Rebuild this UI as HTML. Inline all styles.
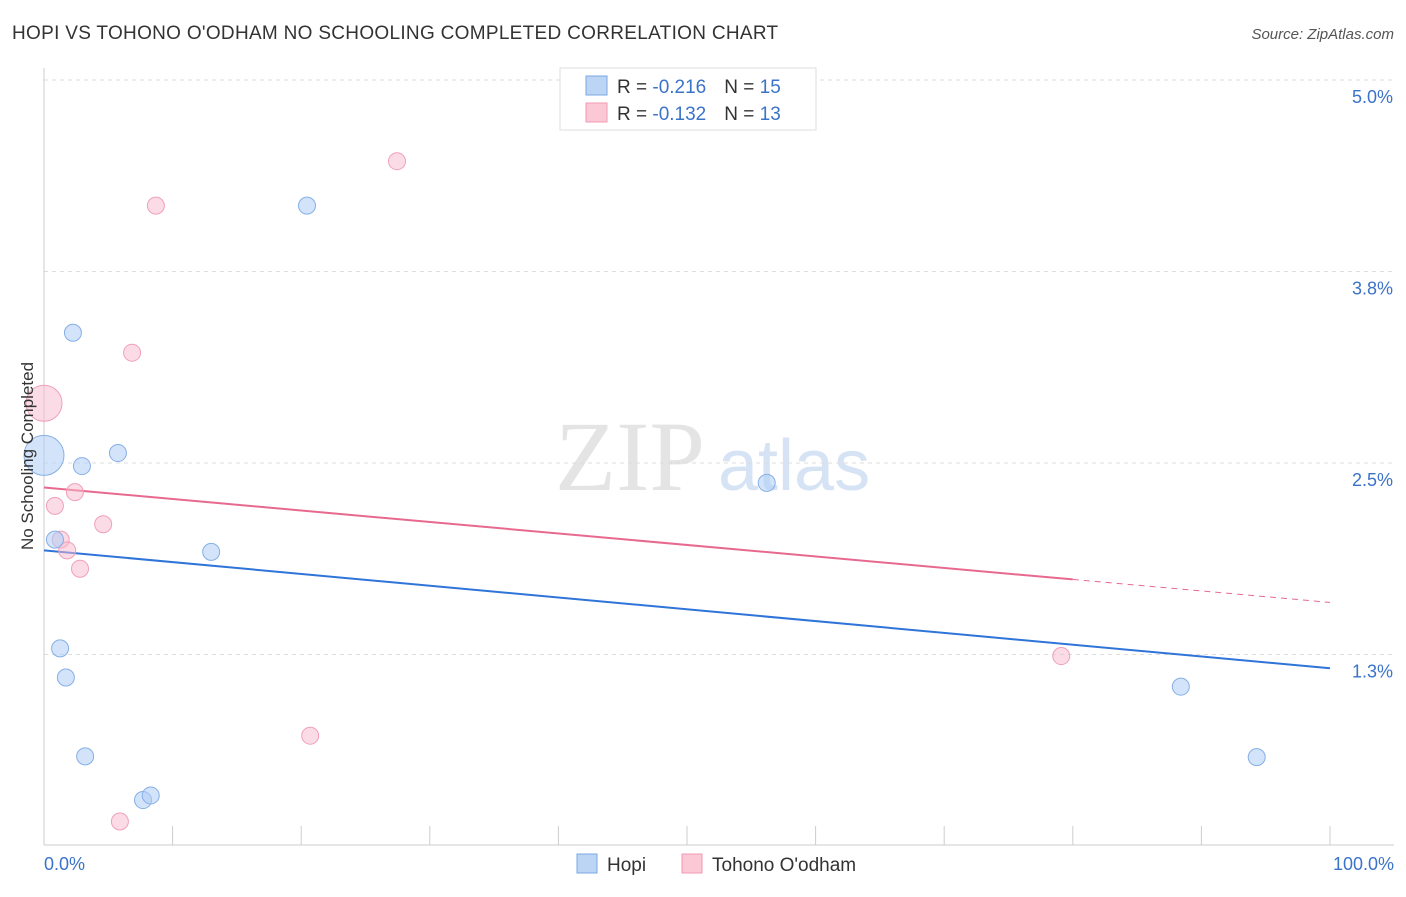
<!DOCTYPE html>
<html><head><meta charset="utf-8"><style>
body{margin:0;background:#fff;font-family:"Liberation Sans",sans-serif;}
</style></head><body>
<svg width="1406" height="892" xmlns="http://www.w3.org/2000/svg" font-family="Liberation Sans, sans-serif">
<text x="12" y="39" font-size="19" letter-spacing="0.3" fill="#333">HOPI VS TOHONO O'ODHAM NO SCHOOLING COMPLETED CORRELATION CHART</text>
<text x="1394" y="39" font-size="15" fill="#555" text-anchor="end" font-style="italic">Source: ZipAtlas.com</text>
<text x="555" y="490" font-size="100" fill="#e4e4e4" font-family="Liberation Serif, serif">ZIP</text>
<text x="718" y="490" font-size="72" fill="#d6e3f5">atlas</text>
<g id="grid"></g>
<g id="axes"></g>
<g id="lines"></g>
<g id="points"></g>
<text transform="translate(33,456) rotate(-90)" font-size="17" fill="#333" text-anchor="middle">No Schooling Completed</text>
<text x="44" y="870" font-size="18" fill="#3b73c9">0.0%</text>
<text x="1394" y="870" font-size="18" fill="#3b73c9" text-anchor="end">100.0%</text>
<g>
<rect x="560" y="68" width="256" height="62" fill="#fff" stroke="#ddd"/>
<rect x="586" y="76" width="21" height="19" fill="#bcd5f5" stroke="#7aa7e3"/>
<rect x="586" y="103" width="21" height="19" fill="#fbc8d6" stroke="#f09ab3"/>
<text x="617" y="93" font-size="19" fill="#333">R = <tspan fill="#3b73c9">-0.216</tspan><tspan dx="18">N = </tspan><tspan fill="#3b73c9">15</tspan></text>
<text x="617" y="120" font-size="19" fill="#333">R = <tspan fill="#3b73c9">-0.132</tspan><tspan dx="18">N = </tspan><tspan fill="#3b73c9">13</tspan></text>
</g>
<g>
<rect x="577" y="854" width="20" height="19" fill="#bcd5f5" stroke="#7aa7e3"/>
<text x="607" y="871" font-size="19" fill="#333">Hopi</text>
<rect x="682" y="854" width="20" height="19" fill="#fbc8d6" stroke="#f09ab3"/>
<text x="712" y="871" font-size="19" fill="#333">Tohono O'odham</text>
</g>
</svg>
<script>
const yTicks=[5.0,3.75,2.5,1.25];
const yTickLabels=["5.0%","3.8%","2.5%","1.3%"];
const hopiX=[20.45,2.25,5.75,2.95,0,0.85,13,56.2,1.25,1.7,3.2,7.7,8.3,88.4,94.3];
const hopiY=[4.18,3.35,2.565,2.48,2.55,2.0,1.92,2.37,1.29,1.10,0.585,0.30,0.33,1.04,0.58];
const hopiR=[8.5,8.5,8.5,8.5,20,8.5,8.5,8.5,8.5,8.5,8.5,8.5,8.5,8.5,8.5];
const tohX=[27.45,8.7,6.85,0,0.85,2.4,4.6,1.3,1.8,2.8,79.1,20.7,5.9];
const tohY=[4.47,4.18,3.22,2.89,2.22,2.31,2.10,2.0,1.93,1.81,1.24,0.72,0.16];
const tohR=[8.5,8.5,8.5,18,8.5,8.5,8.5,8.5,8.5,8.5,8.5,8.5,8.5];
const hopiTrend=[1.93,1.16];
const tohTrend=[2.34,1.59];
const tohSolidEnd=80;
const NS="http://www.w3.org/2000/svg";
const X=p=>44+p*12.86;
const Y=v=>80+(5-v)*153.2;
function mk(tag,attrs,parent){const e=document.createElementNS(NS,tag);for(const k in attrs)e.setAttribute(k,attrs[k]);document.getElementById(parent).appendChild(e);return e;}
yTicks.forEach((t,i)=>{
 const l=mk('line',{x1:44,x2:1394,y1:Y(t),y2:Y(t),stroke:'#ddd','stroke-dasharray':'4,4'},'grid');
 
 
 const tx=mk('text',{x:1393,y:Y(t)+23,'font-size':18,fill:'#3b73c9','text-anchor':'end'},'grid');
 tx.textContent=yTickLabels[i];
 
 
});
const a1=mk('line',{x1:44,x2:44,y1:68,y2:845,stroke:'#ccc'},'axes');


const a2=mk('line',{x1:44,x2:1394,y1:845,y2:845,stroke:'#ccc'},'axes');


for(let i=0;i<=10;i++){
 const t=mk('line',{x1:X(i*10),x2:X(i*10),y1:826,y2:845,stroke:'#ccc'},'axes');
 
 
}
const hl=mk('line',{x1:X(0),y1:Y(hopiTrend[0]),x2:X(100),y2:Y(hopiTrend[1]),stroke:'#2f74d8','stroke-width':2},'lines');


const ty=p=>tohTrend[0]+(tohTrend[1]-tohTrend[0])*p/100;
const tl=mk('line',{x1:X(0),y1:Y(ty(0)),x2:X(tohSolidEnd),y2:Y(ty(tohSolidEnd)),stroke:'#e8698f','stroke-width':2},'lines');


const td=mk('line',{x1:X(tohSolidEnd),y1:Y(ty(tohSolidEnd)),x2:X(100),y2:Y(ty(100)),stroke:'#e8698f','stroke-width':1,'stroke-dasharray':'6,5'},'lines');


tohX.forEach((x,i)=>{
 const c=mk('circle',{cx:X(x),cy:Y(tohY[i]),r:tohR[i],fill:'rgba(248,185,205,0.5)',stroke:'#f0a0b8'},'points');
 
 
});
hopiX.forEach((x,i)=>{
 const c=mk('circle',{cx:X(x),cy:Y(hopiY[i]),r:hopiR[i],fill:'rgba(175,205,245,0.55)',stroke:'#86afe6'},'points');
 
 
});
</script>
</body></html>
